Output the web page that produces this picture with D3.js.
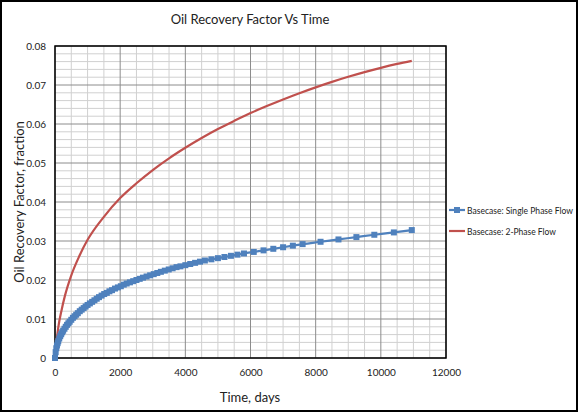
<!DOCTYPE html>
<html><head><meta charset="utf-8">
<script src="https://cdn.jsdelivr.net/npm/d3@7"></script>
<style>body{margin:0;background:#fff}svg{display:block}text{font-family:Lato,"Open Sans",sans-serif}</style>
</head><body><svg id="c" width="580" height="413"></svg>
<script>
const title = "Oil Recovery Factor Vs Time";
const xTicks = [0,2000,4000,6000,8000,10000,12000];
const yTicks = [0,0.01,0.02,0.03,0.04,0.05,0.06,0.07,0.08];
const seriesNames = ["Basecase: Single Phase Flow","Basecase: 2-Phase Flow"];
const singleDays = [0,20,40,60,80,100,130,160,190,220,250,290,330,370,410,450,500,550,600,650,700,760,820,880,940,1000,1070,1140,1210,1280,1350,1430,1510,1590,1670,1750,1840,1930,2020,2110,2200,2300,2400,2500,2600,2700,2810,2920,3030,3140,3250,3370,3490,3610,3730,3850,4000,4150,4300,4450,4600,4800,5000,5200,5400,5600,5800,6100,6400,6700,7000,7300,7600,8150,8700,9250,9800,10400,10950];
const singleRF = [0,0.0015,0.0025,0.0032,0.0038,0.0043,0.0050,0.0056,0.0061,0.0066,0.0070,0.0075,0.0080,0.0085,0.0089,0.0093,0.0098,0.0103,0.0107,0.0111,0.0115,0.0120,0.0124,0.0128,0.0132,0.0136,0.0140,0.0144,0.0148,0.0152,0.0156,0.0160,0.0164,0.0167,0.0171,0.0174,0.0178,0.0181,0.0184,0.0188,0.0191,0.0194,0.0197,0.0200,0.0203,0.0206,0.0209,0.0212,0.0215,0.0218,0.0221,0.0224,0.0227,0.0230,0.0233,0.0235,0.0238,0.0241,0.0244,0.0247,0.0250,0.0253,0.0256,0.0259,0.0262,0.0265,0.0268,0.0272,0.0276,0.0280,0.0284,0.0288,0.0292,0.0298,0.0304,0.0310,0.0316,0.0322,0.0328];
const twoDays = [0,50,100,200,300,500,750,1000,1500,2000,2500,3000,3500,4000,4500,5000,5500,6000,6500,7000,7500,8000,8500,9000,9500,10000,10500,10950];
const twoRF = [0,0.0045,0.0078,0.0122,0.0158,0.0212,0.0262,0.0303,0.0362,0.041,0.0448,0.0482,0.0512,0.0539,0.0564,0.0587,0.0608,0.0628,0.0646,0.0663,0.0679,0.0694,0.0708,0.0721,0.0733,0.0744,0.0754,0.0762];

const svg = d3.select("#c");
svg.append("rect").attr("x",1).attr("y",1).attr("width",576).attr("height",410).attr("fill","#fff").attr("stroke","#000").attr("stroke-width",2);
const L=55,R=446,T=46,B=358;
const x=d3.scaleLinear().domain([0,12000]).range([L,R]);
const y=d3.scaleLinear().domain([0,0.08]).range([B,T]);
const g=svg.append("g");
d3.range(0,12001,500).forEach(v=>{ if(v%2000) g.append("line").attr("x1",x(v)).attr("x2",x(v)).attr("y1",T).attr("y2",B).attr("stroke","#d0d0d0").attr("stroke-width",1);});
d3.range(0,81,2).forEach(k=>{ if(k%10) g.append("line").attr("x1",L).attr("x2",R).attr("y1",y(k/1000)).attr("y2",y(k/1000)).attr("stroke","#d0d0d0").attr("stroke-width",1);});
xTicks.forEach(v=>g.append("line").attr("x1",x(v)).attr("x2",x(v)).attr("y1",T).attr("y2",B).attr("stroke","#8c8c8c").attr("stroke-width",1));
yTicks.forEach(v=>g.append("line").attr("x1",L).attr("x2",R).attr("y1",y(v)).attr("y2",y(v)).attr("stroke","#8c8c8c").attr("stroke-width",1));
svg.append("rect").attr("x",L).attr("y",T).attr("width",R-L).attr("height",B-T).attr("fill","none").attr("stroke","#000").attr("stroke-width",1.5);
const xa=svg.append("g").attr("transform",`translate(0,${B})`).call(d3.axisBottom(x).tickValues(xTicks).tickFormat(d3.format("d")).tickSize(0).tickPadding(11));
const ya=svg.append("g").attr("transform",`translate(${L},0)`).call(d3.axisLeft(y).tickValues(yTicks).tickFormat(d=>d===0?"0":d3.format(".2f")(d)).tickSize(0).tickPadding(9));
[xa,ya].forEach(a=>{a.select(".domain").remove();a.selectAll("text").attr("font-size",10).attr("fill","#222").attr("font-family","Lato,sans-serif");});
const line=d3.line().x(d=>x(d[0])).y(d=>y(d[1])).curve(d3.curveMonotoneX);
svg.append("path").datum(twoDays.map((d,i)=>[d,twoRF[i]])).attr("d",line).attr("fill","none").attr("stroke","#c0504d").attr("stroke-width",2.2);
const sp=singleDays.map((d,i)=>[d,singleRF[i]]);
svg.append("path").datum(sp).attr("d",line).attr("fill","none").attr("stroke","#4f81bd").attr("stroke-width",2.2);
svg.selectAll(".m").data(sp).enter().append("rect").attr("x",d=>x(d[0])-3).attr("y",d=>y(d[1])-3).attr("width",6).attr("height",6).attr("fill","#4f81bd");
svg.append("text").attr("x",250).attr("y",24).attr("text-anchor","middle").attr("font-size",13).attr("fill","#222").text(title);
svg.append("text").attr("x",250).attr("y",402).attr("text-anchor","middle").attr("font-size",13).attr("fill","#222").text("Time, days");
svg.append("text").attr("transform","translate(24,202) rotate(-90)").attr("text-anchor","middle").attr("font-size",13).attr("fill","#222").text("Oil Recovery Factor, fraction");
const lg=svg.append("g");
[["#4f81bd",210,true,106],["#c0504d",231,false,89]].forEach((s,i)=>{
  lg.append("line").attr("x1",449).attr("x2",465).attr("y1",s[1]).attr("y2",s[1]).attr("stroke",s[0]).attr("stroke-width",2.2);
  if(s[2]) lg.append("rect").attr("x",454).attr("y",s[1]-3).attr("width",6).attr("height",6).attr("fill",s[0]);
  lg.append("text").attr("x",467).attr("y",s[1]+3.5).attr("font-size",9.5).attr("fill","#222").attr("textLength",s[3]).attr("lengthAdjust","spacingAndGlyphs").text(seriesNames[i]);
});
</script></body></html>
